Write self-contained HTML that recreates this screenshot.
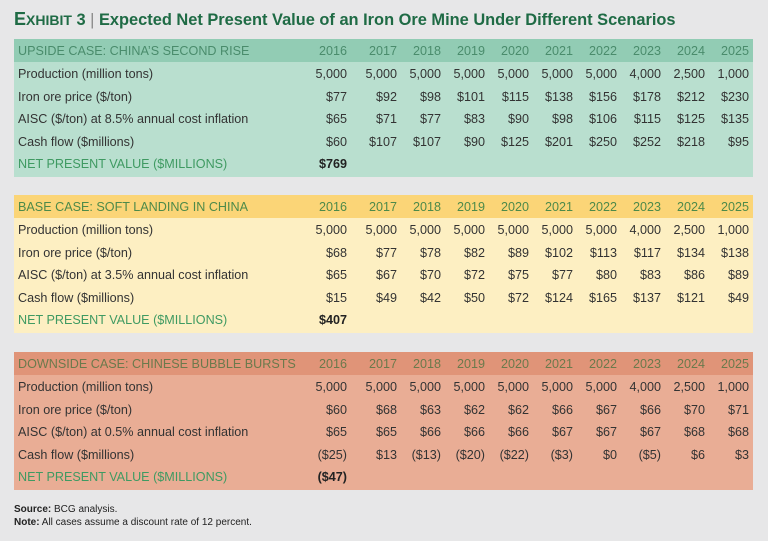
<!DOCTYPE html>
<html><head><meta charset="utf-8"><style>
body{margin:0;width:768px;height:541px;background:#e7e7e8;font-family:"Liberation Sans",sans-serif;position:relative;overflow:hidden;color:#333}
.t{position:absolute;white-space:nowrap;font-size:12.6px;line-height:14px}
.r{text-align:right}
.title{position:absolute;left:14px;top:9px;font-size:16.4px;font-weight:bold;color:#1f6b45;white-space:nowrap}
.panel{position:absolute;left:14px;width:739px}
.hdr{position:absolute;left:0;width:739px;height:23px}
</style></head><body>
<div class="title"><span style="font-size:18px">E</span><span style="font-size:14px">XHIBIT</span> 3 <span style="font-weight:normal;color:#888">|</span> Expected Net Present Value of an Iron Ore Mine Under Different Scenarios</div>
<div id="root"></div>
<div class="t" style="left:14px;top:503px;font-size:10px;color:#222"><b>Source:</b> BCG analysis.</div>
<div class="t" style="left:14px;top:516px;font-size:10px;color:#222"><b>Note:</b> All cases assume a discount rate of 12 percent.</div>
<script>
const years=["2016","2017","2018","2019","2020","2021","2022","2023","2024","2025"];
const rowLabels=["Production (million tons)","Iron ore price ($/ton)","AISC ($/ton) at {inf} annual cost inflation","Cash flow ($millions)"];
const caseTitles=["UPSIDE CASE: CHINA’S SECOND RISE","BASE CASE: SOFT LANDING IN CHINA","DOWNSIDE CASE: CHINESE BUBBLE BURSTS"];
const inflation=["8.5%","3.5%","0.5%"];
const npv=["$769","$407","($47)"];
const upside=[["5,000","5,000","5,000","5,000","5,000","5,000","5,000","4,000","2,500","1,000"],["$77","$92","$98","$101","$115","$138","$156","$178","$212","$230"],["$65","$71","$77","$83","$90","$98","$106","$115","$125","$135"],["$60","$107","$107","$90","$125","$201","$250","$252","$218","$95"]];
const base=[["5,000","5,000","5,000","5,000","5,000","5,000","5,000","4,000","2,500","1,000"],["$68","$77","$78","$82","$89","$102","$113","$117","$134","$138"],["$65","$67","$70","$72","$75","$77","$80","$83","$86","$89"],["$15","$49","$42","$50","$72","$124","$165","$137","$121","$49"]];
const downside=[["5,000","5,000","5,000","5,000","5,000","5,000","5,000","4,000","2,500","1,000"],["$60","$68","$63","$62","$62","$66","$67","$66","$70","$71"],["$65","$65","$66","$66","$66","$67","$67","$67","$68","$68"],["($25)","$13","($13)","($20)","($22)","($3)","$0","($5)","$6","$3"]];
const cases=[upside,base,downside];
const colRight=[333,383,427,471,515,559,603,647,691,735];
const tops=[39,195,352];
const hdrCol=["#92ccb4","#fbd577","#e09478"];
const bodyCol=["#b9dfcf","#fdefc2","#e9ad95"];
const hdrTxt=["#4a8c6c","#4d8a4a","#6b7a4c"];
const root=document.getElementById('root');
function mk(parent,cls,txt,style){const d=document.createElement('div');d.className=cls;if(txt!=null)d.textContent=txt;Object.assign(d.style,style);parent.appendChild(d);return d;}
cases.forEach((data,c)=>{
  const p=mk(root,'panel',null,{top:tops[c]+'px',height:'138px',background:bodyCol[c]});
  
  
  const h=mk(p,'hdr',null,{top:'0px',background:hdrCol[c]});
  
  
  const ht=mk(p,'t',caseTitles[c],{left:'4px',top:'5px',color:hdrTxt[c]});
  
  
  years.forEach((y,i)=>{const e=mk(p,'t r',y,{left:(colRight[i]-40)+'px',width:'40px',top:'5px',color:hdrTxt[c]});
    
    });
  data.forEach((row,r)=>{
    const top=28+r*22.5;
    const l=mk(p,'t',rowLabels[r].replace('{inf}',inflation[c]),{left:'4px',top:top+'px'});
    
    
    row.forEach((v,i)=>{const e=mk(p,'t r',v,{left:(colRight[i]-50)+'px',width:'50px',top:top+'px'});
      
      });
  });
  const nl=mk(p,'t','NET PRESENT VALUE ($MILLIONS)',{left:'4px',top:(28+4*22.5)+'px',color:'#3f9a62'});
  
  
  const nv=mk(p,'t r',npv[c],{left:(colRight[0]-50)+'px',width:'50px',top:(28+4*22.5)+'px',fontWeight:'bold',color:'#222'});
  
  
});
</script>
</body></html>
